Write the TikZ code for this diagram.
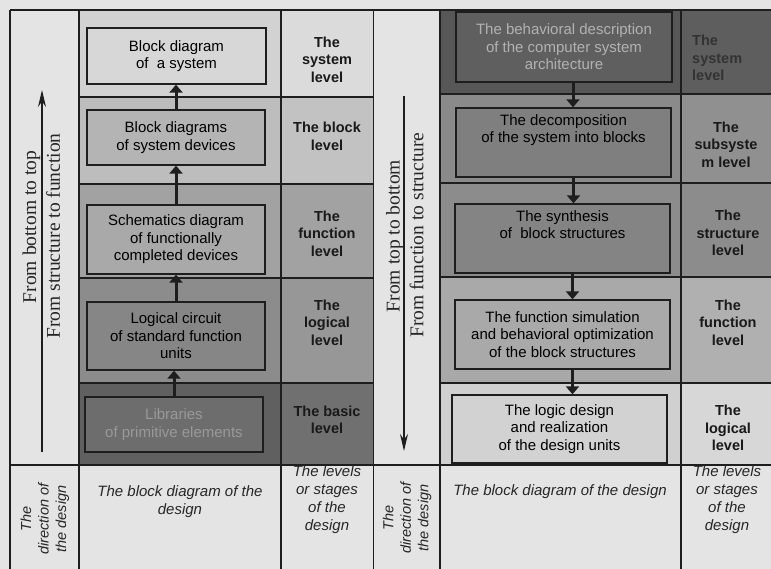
\documentclass[tikz,border=0pt]{standalone}
\usepackage{fontspec}
\setmainfont{Liberation Sans}
\newfontfamily\dirfont{Liberation Serif}
\usetikzlibrary{arrows.meta, calc}

\definecolor{paper}{HTML}{E4E4E4}
\definecolor{lineclr}{HTML}{1E1E1E}
% левая таблица
\definecolor{lrowA}{HTML}{D2D2D2}
\definecolor{lrowB}{HTML}{BDBDBD}
\definecolor{lrowC}{HTML}{A2A2A2}
\definecolor{lrowD}{HTML}{8C8C8C}
\definecolor{lrowE}{HTML}{606060}
% правая таблица
\definecolor{rrowA}{HTML}{575757}
\definecolor{rrowB}{HTML}{8A8A8A}
\definecolor{rrowC}{HTML}{8C8C8C}
\definecolor{rrowD}{HTML}{A9A9A9}
\definecolor{rrowE}{HTML}{D0D0D0}

\begin{document}
\begin{tikzpicture}[x=1pt, y=-1pt,
    grid/.style={lineclr, line width=1.1pt},
    blk/.style={draw=lineclr, line width=1.3pt, align=center, inner sep=0pt,
      font=\fontsize{15}{17.5}\selectfont},
    lvl/.style={align=center, inner sep=0pt, text=black!90,
      font=\bfseries\fontsize{14.5}{17.5}\selectfont},
    captext/.style={align=center, inner sep=0pt, text=black!85,
      font=\itshape\fontsize{15}{18}\selectfont},
    dirtext/.style={rotate=90, inner sep=0pt, text=black!85,
      font=\dirfont\fontsize{19.5}{20}\selectfont},
    flow/.style={lineclr, line width=3pt, -{Triangle[width=13pt,length=8pt]}},
    way/.style={lineclr, line width=1.2pt, -{Stealth[width=8pt,length=17pt]}}]

    % Фон
    \useasboundingbox (0,0) rectangle (771,569);
    \fill[paper] (0,0) rectangle (771,569);

    % Полосы слева
    \fill[lrowA] (79,10) rectangle (281,97);
    \fill[lrowB] (79,97) rectangle (281,184);
    \fill[lrowC] (79,184) rectangle (281,278);
    \fill[lrowD] (79,278) rectangle (281,383);
    \fill[lrowE] (79,383) rectangle (281,465);
    \fill[lrowA!80!white] (281,10) rectangle (373.5,97);
    \fill[lrowB!92!white] (281,97) rectangle (373.5,184);
    \fill[lrowC] (281,184) rectangle (373.5,278);
    \fill[lrowD!90!white] (281,278) rectangle (373.5,383);
    \fill[lrowE!90!white] (281,383) rectangle (373.5,465);

    % Полосы справа
    \fill[rrowA] (440,10) rectangle (681,94);
    \fill[rrowB] (440,94) rectangle (681,183);
    \fill[rrowC] (440,183) rectangle (681,277);
    \fill[rrowD] (440,277) rectangle (681,383);
    \fill[rrowE] (440,383) rectangle (681,465);
    \fill[rrowA!96!white] (681,10) rectangle (771,94);
    \fill[rrowB!95!white] (681,94) rectangle (771,183);
    \fill[rrowC] (681,183) rectangle (771,277);
    \fill[rrowD!92!white] (681,277) rectangle (771,383);
    \fill[rrowE!85!white] (681,383) rectangle (771,465);

    % Сетка
    \draw[grid] (10,10) -- (771,10);
    \draw[grid] (10,465) -- (771,465);
    \draw[grid] (10,10) -- (10,569);
    \draw[grid] (79,10) -- (79,569);
    \draw[grid] (281,10) -- (281,569);
    \draw[grid] (373.5,10) -- (373.5,569);
    \draw[grid] (440,10) -- (440,569);
    \draw[grid] (681,10) -- (681,569);
    \draw[grid] (79,97) -- (373.5,97);
    \draw[grid] (79,184) -- (373.5,184);
    \draw[grid] (79,278) -- (373.5,278);
    \draw[grid] (79,383) -- (373.5,383);
    \draw[grid] (440,94) -- (771,94);
    \draw[grid] (440,183) -- (771,183);
    \draw[grid] (440,277) -- (771,277);
    \draw[grid] (440,383) -- (771,383);

    % Блоки слева (снизу вверх)
    \node[blk, fill=lrowA!90!white, minimum width=179pt, minimum height=56pt] (b1) at (176.5,56)
      {Block diagram\\of\ \ a system};
    \node[blk, fill=lrowB!95!black, minimum width=178pt, minimum height=55pt] (b2) at (176,137.5)
      {Block diagrams\\of system devices};
    \node[blk, fill=lrowC!92!white, minimum width=178pt, minimum height=69pt] (b3) at (176,239.5)
      {Schematics diagram\\of functionally\\completed devices};
    \node[blk, fill=lrowD!96!black, minimum width=178pt, minimum height=68pt] (b4) at (176,336)
      {Logical circuit\\of standard function\\units};
    \node[blk, fill=lrowE!92!white, text=black!40, minimum width=178pt, minimum height=55pt] (b5) at (174,424.5)
      {Libraries\\of primitive elements};

    \draw[flow] (b2.north) -- (b2.north |- b1.south);
    \draw[flow] (b3.north) -- (b3.north |- b2.south);
    \draw[flow] (b4.north) -- (b4.north |- b3.south);
    \draw[flow] (b5.north) -- (b5.north |- b4.south);

    % Уровни слева
    \node[lvl] (lv1) at (327,59.5) {The\\system\\level};
    \node[lvl] (lv2) at (327,136.5) {The block\\level};
    \node[lvl] (lv3) at (327,233.5) {The\\function\\level};
    \node[lvl] (lv4) at (327,322.5) {The\\logical\\level};
    \node[lvl] (lv5) at (327,420) {The basic\\level};

    % Блоки справа (сверху вниз)
    \node[blk, fill=rrowA!95!white, text=black!30, minimum width=216pt, minimum height=70pt] (r1) at (564,47)
      {The behavioral description\\of the computer system\\architecture};
    \node[blk, fill=rrowB!92!black, minimum width=215pt, minimum height=69pt] (r2) at (563.5,142.5)
      {The decomposition\\of the system into blocks\\[10pt]};
    \node[blk, fill=rrowC!94!black, minimum width=215pt, minimum height=69pt] (r3) at (562.5,238.5)
      {The synthesis\\of\ \ block structures\\[10pt]};
    \node[blk, fill=rrowD, minimum width=215pt, minimum height=69pt] (r4) at (562.5,334.5)
      {The function simulation\\and behavioral optimization\\of the block structures};
    \node[blk, fill=rrowE!95!white, minimum width=215pt, minimum height=68pt] (r5) at (559.5,429)
      {The logic design\\and realization\\of the design units};

    \draw[flow] ([xshift=9pt]r1.south) -- ([xshift=9pt]r1.south |- r2.north);
    \draw[flow] ([xshift=10pt]r2.south) -- ([xshift=10pt]r2.south |- r3.north);
    \draw[flow] ([xshift=10pt]r3.south) -- ([xshift=10pt]r3.south |- r4.north);
    \draw[flow] ([xshift=10pt]r4.south) -- ([xshift=10pt]r4.south |- r5.north);

    % Уровни справа
    \node[lvl, align=left, anchor=west, text=black!80] (rv1) at (692,58) {The\\system\\level};
    \node[lvl] (rv2) at (726,144.5) {The\\subsyste\\m level};
    \node[lvl] (rv3) at (728,233) {The\\structure\\level};
    \node[lvl] (rv4) at (728,322.5) {The\\function\\level};
    \node[lvl] (rv5) at (728,428) {The\\logical\\level};

    % Направление проектирования
    \coordinate (lbot) at (42,452);
    \coordinate (ltop) at (42,90);
    \draw[way] (lbot) -- (ltop);
    \node[dirtext] (lup) at (31.5,227) {From bottom to top};
    \node[dirtext] (lup2) at (53,236) {From structure to function};

    \coordinate (rtop) at (404,96);
    \coordinate (rbot) at (404,451);
    \draw[way] (rtop) -- (rbot);
    \node[dirtext] (rdown) at (395,236) {From top to bottom};
    \node[dirtext] (rdown2) at (416.5,235) {From function to structure};

    % Нижняя строка
    \node[captext, rotate=90, font=\itshape\fontsize{14.5}{17.5}\selectfont] (ldir) at (45,519)
      {The\\direction of\\the design};
    \node[captext] (lcap) at (180,501.5) {The block diagram of the\\design};
    \node[captext] (lstage) at (327,500) {The levels\\or stages\\of the\\design};
    \node[captext, rotate=90, font=\itshape\fontsize{14.5}{17.5}\selectfont] (rdir) at (407,518)
      {The\\direction of\\the design};
    \node[captext] (rcap) at (560,492) {The block diagram of the design};
    \node[captext] (rstage) at (727,500) {The levels\\or stages\\of the\\design};
\end{tikzpicture}
\end{document}
